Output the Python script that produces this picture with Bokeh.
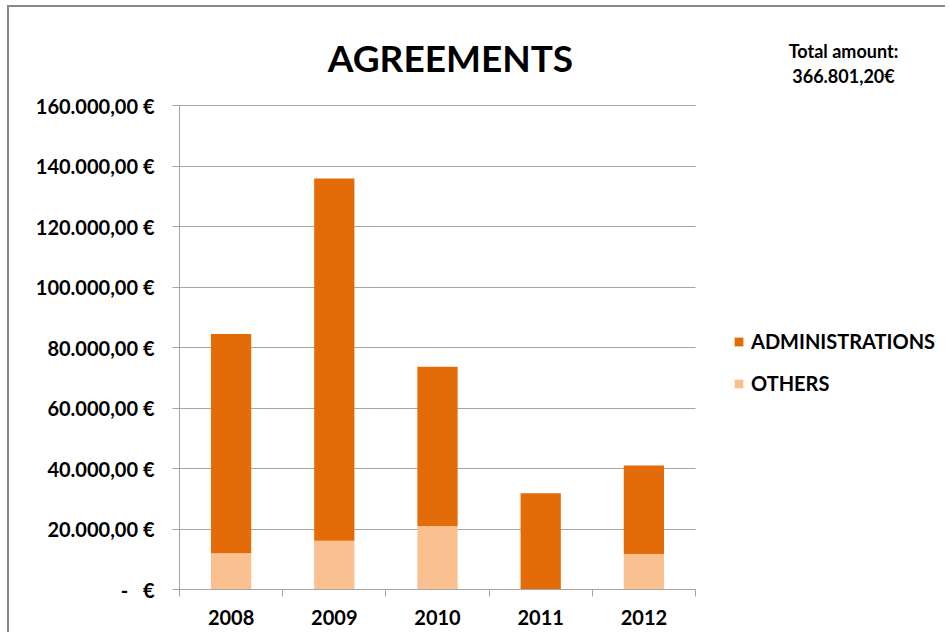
from bokeh.plotting import figure
from bokeh.models import (ColumnDataSource, FixedTicker, Legend, LegendItem, Label,
                          Range1d, Grid)
from bokeh.embed import file_html
from bokeh.resources import INLINE

# ---- data ----
years = ["2008", "2009", "2010", "2011", "2012"]
administrations = [72500, 119800, 52600, 31800, 29300]
others = [12000, 16100, 21000, 0, 11700]
y_ticks = [0, 20000, 40000, 60000, 80000, 100000, 120000, 140000, 160000]
title_text = "AGREEMENTS"
total_lines = ["Total amount:", "366.801,20€"]

ADMIN_COLOR = "#E36C09"
OTHER_COLOR = "#FAC090"
GRID = "#A6A6A6"
FONT = "Lato"

# ---- layout geometry (pixels) ----
W, H = 938, 627
LEFT, BOTTOM = 170, 45
PLOT_W, PLOT_H = 516, 484          # size of the actual chart area
frame_w = W - LEFT
frame_h = H - BOTTOM
n = len(years)
y_max = y_ticks[-1]

xs = [i + 0.5 for i in range(n)]
src = ColumnDataSource(dict(x=xs, others=others, administrations=administrations))


def euro(v):
    if v == 0:
        return "-\u00a0\u00a0\u00a0€"
    s = f"{v:,.2f}".replace(",", "X").replace(".", ",").replace("X", ".")
    return s + " €"


p = figure(width=W, height=H, output_backend="svg", toolbar_location=None,
           x_range=Range1d(0, n * frame_w / PLOT_W),
           y_range=Range1d(0, y_max * frame_h / PLOT_H),
           min_border_left=LEFT, min_border_right=0, min_border_top=0,
           min_border_bottom=BOTTOM)
p.styles = {"border-left": "2px solid #8A8A8A", "border-top": "2px solid #8A8A8A",
            "margin-left": "7px", "margin-top": "5px"}
p.outline_line_color = None
p.background_fill_color = "white"
p.border_fill_color = "white"

# grid lines limited to the chart area
p.xgrid.grid_line_color = None
if "cross_bounds" in Grid.properties():
    p.ygrid.ticker = FixedTicker(ticks=y_ticks)
    p.ygrid.grid_line_color = GRID
    p.ygrid.cross_bounds = (0, n)
else:
    p.ygrid.grid_line_color = None
    p.segment(x0=[0] * len(y_ticks), x1=[n] * len(y_ticks), y0=y_ticks, y1=y_ticks,
              line_color=GRID, line_width=1)

rs = p.vbar_stack(["others", "administrations"], x="x", width=0.39, source=src,
                  color=[OTHER_COLOR, ADMIN_COLOR], line_color=None)

# y axis
p.yaxis.ticker = FixedTicker(ticks=y_ticks)
p.yaxis.bounds = (0, y_max)
p.yaxis.major_label_overrides = {t: euro(t) for t in y_ticks}
p.yaxis.major_label_text_font = FONT
p.yaxis.major_label_text_font_style = "bold"
p.yaxis.major_label_text_font_size = "20px"
p.yaxis.major_label_text_color = "black"
p.yaxis.major_tick_out = 7
p.yaxis.major_tick_in = 0
p.yaxis.minor_tick_line_color = None
p.yaxis.major_label_standoff = 18
p.yaxis.axis_line_color = GRID
p.yaxis.major_tick_line_color = GRID

# x axis: labels at centers, ticks at category boundaries
p.xaxis.ticker = FixedTicker(ticks=xs, minor_ticks=list(range(n + 1)))
p.xaxis.bounds = (0, n)
p.xaxis.major_label_overrides = {x: y for x, y in zip(xs, years)}
p.xaxis.major_tick_out = 0
p.xaxis.major_tick_in = 0
p.xaxis.minor_tick_out = 7
p.xaxis.minor_tick_in = 0
p.xaxis.minor_tick_line_color = GRID
p.xaxis.axis_line_color = GRID
p.xaxis.major_label_text_font = FONT
p.xaxis.major_label_text_font_style = "bold"
p.xaxis.major_label_text_font_size = "20px"
p.xaxis.major_label_text_color = "black"
p.xaxis.major_label_standoff = 13

legend = Legend(items=[LegendItem(label="ADMINISTRATIONS", renderers=[rs[1]]),
                       LegendItem(label="OTHERS", renderers=[rs[0]])],
                location=(554, 194), padding=0, margin=0, spacing=18,
                glyph_width=11, glyph_height=11, label_height=20, label_standoff=7,
                label_text_font=FONT, label_text_font_style="bold",
                label_text_font_size="20px", label_text_color="black",
                border_line_color=None, background_fill_alpha=0)
p.add_layout(legend, "center")

p.add_layout(Label(x=271, y=532, x_units="screen", y_units="screen",
                   text=title_text, text_font=FONT, text_font_style="bold",
                   text_font_size="37px", text_color="black",
                   text_align="center", text_baseline="middle"))
for i, t in enumerate(total_lines):
    p.add_layout(Label(x=664, y=539 - 25 * i, x_units="screen", y_units="screen",
                       text=t, text_font=FONT, text_font_style="bold",
                       text_font_size="18px", text_color="black",
                       text_align="center", text_baseline="middle"))

open("out.html", "w").write(file_html(p, INLINE))
